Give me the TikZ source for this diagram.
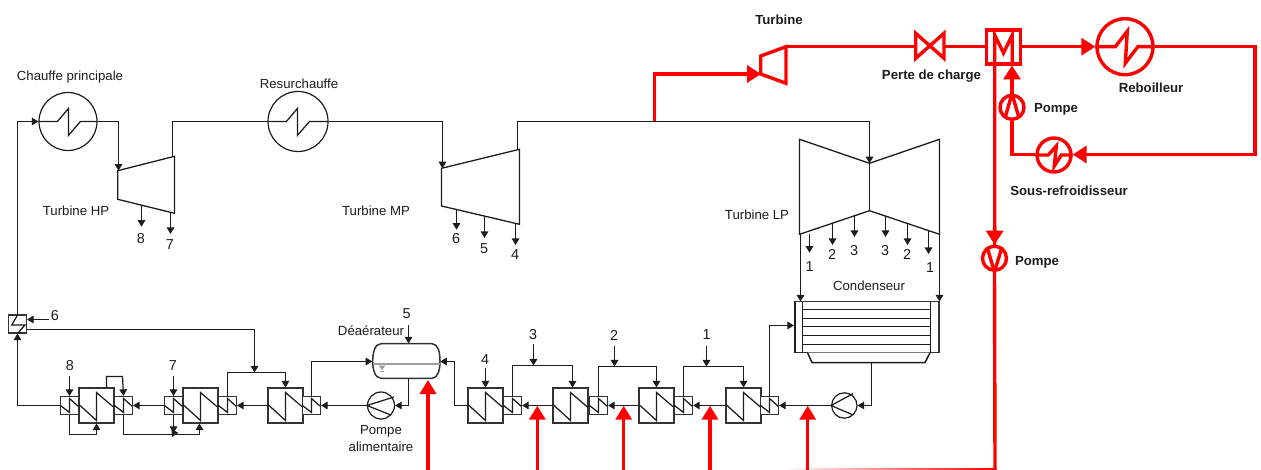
\documentclass[tikz,border=0pt]{standalone}
\usepackage{fontspec}
\setmainfont{Liberation Sans}
\usetikzlibrary{arrows.meta,calc}
\definecolor{ink}{HTML}{1C1C1C}
\definecolor{hot}{HTML}{FF0000}
\tikzset{
  x=0.5pt,y=-0.5pt,
  lbl/.style={font=\fontsize{6.6}{7}\selectfont,text=ink,inner sep=0pt,text height=4.8pt,text depth=0pt},
  blbl/.style={font=\fontsize{6.6}{7}\selectfont\bfseries,text=ink,inner sep=0pt,text height=4.8pt,text depth=0pt},
  num/.style={font=\fontsize{7.2}{8}\selectfont,text=ink,inner sep=0pt},
  pipe/.style={draw=ink,line width=0.62pt,line join=miter},
  flow/.style={pipe,-{Triangle[length=3.3pt,width=3.8pt]}},
  shell/.style={draw=ink!90,line width=0.75pt,fill=white},
  redpipe/.style={draw=hot,line width=1.7pt,line join=miter},
  redflow/.style={redpipe,-{Triangle[length=7pt,width=8.5pt]}},
  bigbox/.style={shape=rectangle,shell,minimum size=17.3pt,inner sep=0pt},
  smallbox/.style={shape=rectangle,shell,minimum size=8.8pt,inner sep=0pt},
  ring/.style={shape=circle,draw=ink,line width=0.6pt,inner sep=0pt},
  redring/.style={shape=circle,draw=hot,line width=1.7pt,inner sep=0pt},
}
\newcommand{\bighx}[3]{\node[bigbox] (#1) at (#2,#3) {};
  \draw[pipe] ($(#1)+(-17.5,-1)$) -- ++(17.5,16) -- ++(0,-28) -- ++(17.5,15);}
\newcommand{\smallhx}[3]{\node[smallbox] (#1) at (#2,#3) {};
  \draw[pipe] ($(#1)+(-9,0)$) -- ++(9,7) -- ++(0,-14) -- ++(9,8);}
\begin{document}
\begin{tikzpicture}
\useasboundingbox (0,0) rectangle (1261,470);
\clip (0,0) rectangle (1261,470);
% ---- coordinates
\coordinate (hpin) at (118.5,170.7);
\coordinate (hpout) at (172.5,121.5);
\coordinate (mpin) at (442.5,168.3);
\coordinate (mpout) at (517.5,121.5);
\coordinate (lpin) at (869.5,163.3);
\coordinate (tap) at (654.5,121.5);
% ---- upper cycle
\node[ring,minimum size=29pt] (chauffe) at (68,121.5) {};
\node[ring,minimum size=30pt] (resur) at (298,121.5) {};
\draw[pipe] (chauffe.west) -- ++(19,0) -- ++(11,-13) -- ++(0,27) -- ++(12,-14) -- (chauffe.east);
\draw[pipe] (resur.west) -- ++(19,0) -- ++(11,-13) -- ++(0,27) -- ++(12,-14) -- (resur.east);
\draw[pipe,line width=0.65pt] (117.7,170.7) -- (174.5,156.3) -- (174.5,213.3) -- (117.7,199.3) -- cycle;
\draw[pipe,line width=0.65pt] (441.5,168.3) -- (519.5,149.3) -- (519.5,224.3) -- (441.5,206) -- cycle;
\draw[pipe,line width=0.65pt] (869.5,163.3) -- (799.5,139.3) -- (799.5,234.3) -- (869.5,210.7) -- (939.5,234.3) -- (939.5,139.3) -- cycle;
\draw[pipe,line width=0.65pt] (869.5,163.3) -- (869.5,210.7);
\draw[flow] (chauffe.east) -| (hpin);
\draw[pipe] (172.5,156.5) -- (hpout) -- (resur.west);
\draw[flow] (resur.east) -| (mpin);
\draw[pipe] (517.5,150) -- (mpout) -- (tap);
\draw[flow] (tap) -| (lpin);
% extractions
\foreach \x/\a/\b in {141.5/205.7/226.7,170.5/213.3/234,456.5/209/229.7,484.5/216/238,515.5/224/245,
 809.5/234/252.7,832.5/224/245,854.5/216/237,885.5/216/237,907.5/224/245,928.5/231/254}
  \draw[flow] (\x,\a) -- (\x,\b);
\foreach \x/\y/\t in {141/239/8,170/245/7,456/239/6,484/249/5,515/255/4,
 809.7/267/1,832/254/2,854/251/3,885/251/3,907/254/2,930/268/1,
 55/316/6,70/366/8,173/366/7,406.5/314/5,485/360/4,533/335/3,614/335/2,706.7/335/1}
  \node[num] (n\x) at (\x,\y) {\t};
% ---- condenser
\node[shape=rectangle,shell,minimum width=72.2pt,minimum height=25.5pt,inner sep=0pt] (cond) at (866.9,327.2) {};
\draw[shell,draw=ink] (807.5,352.7) -- (812,362.5) -- (925,362.5) -- (930,352.7);
\draw[shell,draw=ink] (802.5,301.7) -- (802.5,352.7) (930.5,301.7) -- (930.5,352.7);
\draw[pipe,line width=1pt] (795,301.7) -- (795,352.7);
\foreach \y in {309.5,318.5,326.5,335.5,344.5} \draw[pipe] (802.5,\y) -- (930.5,\y);
\draw[flow] (800.5,234.3) -- (800.5,301.5);
\draw[flow] (939.5,234.3) -- (939.5,301.5);
% ---- heat exchangers
\bighx{h1}{743.5}{405.5}\smallhx{s1}{769.5}{405.5}
\bighx{h2}{656.5}{405.5}\smallhx{s2}{683.5}{405.5}
\bighx{h3}{570.5}{405.5}\smallhx{s3}{598.5}{405.5}
\bighx{h4}{485.5}{405.5}\smallhx{s4}{512.5}{405.5}
\bighx{h5}{285.5}{405.5}\smallhx{s5}{311.5}{405.5}
\bighx{h6}{200.5}{405.5}\smallhx{s6}{227.5}{405.5}\smallhx{s7}{173.5}{405.5}
\bighx{h7}{96.5}{405.5}\smallhx{s8}{123.5}{405.5}\smallhx{s9}{69.5}{405.5}
% top-up drain box
\node[smallbox] (s0) at (17.5,324) {};
\draw[pipe] (17.3,315.5) -- (11.7,325) -- (25,325) -- (18.3,332.7);
% ---- pumps
\node[ring,minimum size=12.7pt] (pc) at (844.3,405.5) {};
\draw[pipe] (853,393.7) -- (pc.west) -- (852,414.5);
\node[ring,minimum size=13.5pt] (pa) at (381,405.5) {};
\draw[pipe] (394,397) -- (pa.west) -- (391,415);
% ---- deaerator
\node[shape=rectangle,minimum width=33.6pt,minimum height=17.3pt,inner sep=0pt] (dea) at (406.3,361.5) {};
\draw[shell] (381,343.7) -- (432,343.7) .. controls (438,344) and (440,352) .. (440,361) .. controls (440,370) and (438,378) .. (432,378.3) -- (381,378.3) .. controls (375,378) and (372.7,370) .. (372.7,361) .. controls (372.7,352) and (375,344) .. (381,343.7) -- cycle;
\draw[draw=gray!75,line width=1pt] (373,363.5) -- (440,363.5);
\fill[gray!75] (378.5,365.5) -- (385.5,365.5) -- (382,370) -- cycle;
\draw[draw=gray!75,line width=0.4pt] (380,371) -- (384,371);
% ---- lower connectors
\draw[flow] (pc.west) -- (s1.east);
\draw[flow] (h1.west) -- (s2.east);
\draw[flow] (h2.west) -- (s3.east);
\draw[flow] (h3.west) -- (s4.east);
\draw[flow] (pa.west) -- (s5.east);
\draw[flow] (h5.west) -- (s6.east);
\draw[flow] (s7.west) -- (s8.east);
\draw[flow] (871.5,362.7) |- (pc.east);
\draw[flow] (408.5,378.3) |- (pa.east);
\draw[flow] (h4.west) -- ++(-13,0) |- (dea.east);
\draw[flow] (s5.north) |- (dea.west);
\draw[flow] (s1.north) |- (cond.west |- 0,325.5);
\draw[flow] (s2.north) |- (743.5,366.5) -- (h1.north);
\draw[flow] (s3.north) |- (656.5,366.5) -- (h2.north);
\draw[flow] (s4.north) |- (572.5,365.5) -- (572.5,387.5);
\draw[flow] (s6.north) |- (285.5,372.5) -- (h5.north);
\draw[flow] (s0.east |- 0,329.5) -| (254.5,372.5);
\draw[flow] (s9.west) -| (s0.south);
\draw[flow] (49,319.5) -- (s0.east |- 0,319.5);
\draw[pipe] (s0.north) -- (17.5,121.5);
\draw[flow] (17.5,121.5) -- (chauffe.west);
\draw[flow] (106.5,388) |- (122.5,376.5) -- (s8.north);
\draw[flow] (s9.south) |- (96.5,434.5) -- (h7.south);
\draw[flow] (s8.south) |- (199.5,434.5) -- (199.5,423.5);
\draw[flow] (s7.south) -- (173.5,433);
\draw[flow] (175,431) -- (172,437);
\draw[flow] (69.5,375.7) -- (s9.north);
\draw[flow] (173.5,375.7) -- (s7.north);
\draw[flow] (706.5,345.7) -- (706.5,366.5);
\draw[flow] (614.5,345.7) -- (614.5,366.5);
\draw[flow] (533.5,344) -- (533.5,365.5);
\draw[flow] (485.5,368) -- (h4.north);
\draw[flow] (408.5,325) -- (408.5,343.5);
% ---- labels
\node[lbl] (t1) at (70,76) {Chauffe principale};
\node[lbl] (t2) at (299,84) {Resurchauffe};
\node[lbl] (t3) at (76,211) {Turbine HP};
\node[lbl] (t4) at (376,211) {Turbine MP};
\node[lbl] (t5) at (757,215) {Turbine LP};
\node[lbl] (t6) at (869,286) {Condenseur};
\node[lbl] (t7) at (371,331) {Déaérateur};
\node[lbl] (t8) at (381,429.3) {Pompe};
\node[lbl] (t9) at (381,446.7) {alimentaire};
\node[blbl] (b1) at (779,20) {Turbine};
\node[blbl] (b2) at (931.5,75) {Perte de charge};
\node[blbl] (b3) at (1056,108) {Pompe};
\node[blbl] (b4) at (1151,88) {Reboilleur};
\node[blbl] (b5) at (1069,190.5) {Sous-refroidisseur};
\node[blbl] (b6) at (1037,261) {Pompe};
% ---- red circuit
\coordinate (bot) at (995,470);
\node[redring,minimum size=28pt] (reb) at (1125,46.7) {};
\node[redring,minimum size=17pt] (sub) at (1054,155) {};
\node[redring,minimum size=12pt] (p1) at (1012,107.3) {};
\node[redring,minimum size=12pt] (p2) at (994.5,258.3) {};
\node[shape=rectangle,draw=hot,line width=1.7pt,minimum size=17pt,inner sep=0pt] (ex) at (1003.5,47) {};
\draw[redpipe] (994.7,246) -- (994.7,35) -- (1003.5,53) -- (1012.2,35) -- (1012.2,65);
\draw[redpipe] (760.7,56) -- (786,46.7) -- (786,83.3) -- (760.7,74) -- cycle;
\draw[redpipe] (915.7,33.3) -- (944,58.3) -- (944,33.3) -- (915.7,58.3) -- cycle;
\draw[redpipe] (786,46.7) -- (915.7,46.7) (944,46.7) -- (ex.west |- 0,46.7);
\draw[redflow] (tap) -- (654.5,74) -- (761,74);
\draw[redflow] (ex.east |- reb.west) -- (reb.west);
\draw[redflow] (reb.east) -- (1255,46.7) -- (1255,154.5) -- (sub.east |- 0,154.5);
\draw[redpipe] (reb.west) -- ++(20,0) -- ++(12,-15.5) -- ++(-2,32) -- ++(12.5,-16.5) -- (reb.east);
\draw[redpipe] (sub.west) -- ++(13,0) -- ++(8,-9) -- ++(-2,20) -- ++(7,-11) -- (sub.east);
\draw[redpipe] (sub.west |- 0,154.5) -| (p1.south);
\draw[redflow] (p1.north) -- (1012,65.5);
\draw[redpipe] (1005,118) -- (p1.north) -- (1019,118);
\draw[redflow] (994.7,225) -- (p2.north);
\draw[redpipe] (987,247) -- (p2.south) -- (1002,247);
\draw[redpipe] (p2.south) -- (bot);
\shade[left color=white,right color=hot] (785,468.7) rectangle (996.5,471);
\foreach \x/\t in {428/380,537.3/405.7,623.7/405.7,710/405.7,807.7/405.7}
  \draw[redpipe,-{Triangle[length=7pt,width=8pt]}] (\x,470) -- (\x,\t);
\end{tikzpicture}
\end{document}
